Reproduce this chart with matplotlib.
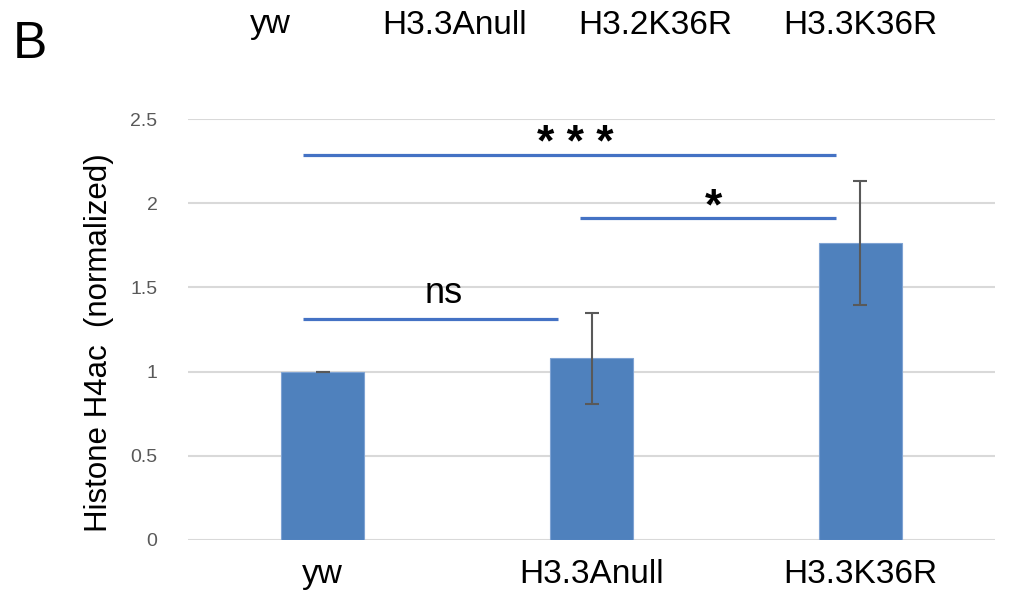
import matplotlib.pyplot as plt
from matplotlib.ticker import FuncFormatter

plt.rcParams['font.family'] = ['Liberation Sans', 'DejaVu Sans']

genotypes = ["yw", "H3.3Anull", "H3.3K36R"]
h4ac = [1.0, 1.08, 1.764]
h4ac_err = [0.0, 0.27, 0.37]
top_labels = ["yw", "H3.3Anull", "H3.2K36R", "H3.3K36R"]

# significance brackets: start, end, height, label
brackets = [
    (-0.072, 1.909, 2.286, "* * *"),
    (0.957, 1.909, 1.912, "*"),
    (-0.072, 0.875, 1.312, "ns"),
]

fig = plt.figure(figsize=(10.18, 5.99), dpi=100)
ax = fig.add_axes([0.1847, 0.0985, 0.7927, 0.7028])

x = range(len(genotypes))
ax.bar(x, h4ac, width=0.31, color="#4f81bd", edgecolor="#7fa3d3", linewidth=0.8,
       yerr=h4ac_err, error_kw=dict(ecolor="#595959", elinewidth=1.5, capsize=5, capthick=1.5),
       zorder=3)

ax.set_xlim(-0.5, 2.5)
ax.set_ylim(0, 2.5)
ax.set_yticks([0, 0.5, 1, 1.5, 2, 2.5])
ax.yaxis.set_major_formatter(FuncFormatter(lambda v, p: "%g" % v))
ax.grid(axis="y", color="#d9d9d9", linewidth=1.5, zorder=0)
for s in ax.spines.values():
    s.set_visible(False)
ax.tick_params(axis="y", length=0, labelsize=14, labelcolor="#595959", pad=22)
ax.tick_params(axis="x", length=0, labelsize=24, pad=14)
ax.set_xticks(list(x))
ax.set_xticklabels(genotypes)
ax.set_ylabel("Histone H4ac  (normalized)", fontsize=22.5)
ax.yaxis.set_label_coords(-0.092, 0.47)

for x0, x1, h, lab in brackets:
    ax.plot([x0, x1], [h, h], color="#4472c4", linewidth=2.3, solid_capstyle="butt",
            clip_on=False, zorder=4)
    if lab == "ns":
        ax.text((x0 + x1) / 2 + 0.05, h + 0.05, lab, ha="center", va="bottom", fontsize=26)
    else:
        ax.text((x0 + x1) / 2 + 0.02, h - 0.06, lab, ha="center", va="bottom", fontsize=32,
                fontweight="bold")

fig.text(30 / 1018, 1 - 45 / 599, "B", fontsize=37, ha="center", va="center")
for lab, px in zip(top_labels, [270, 455, 655, 860]):
    fig.text(px / 1018, 1 - 25 / 599, lab, fontsize=24, ha="center", va="center")

fig.savefig("out.png", dpi=100)
